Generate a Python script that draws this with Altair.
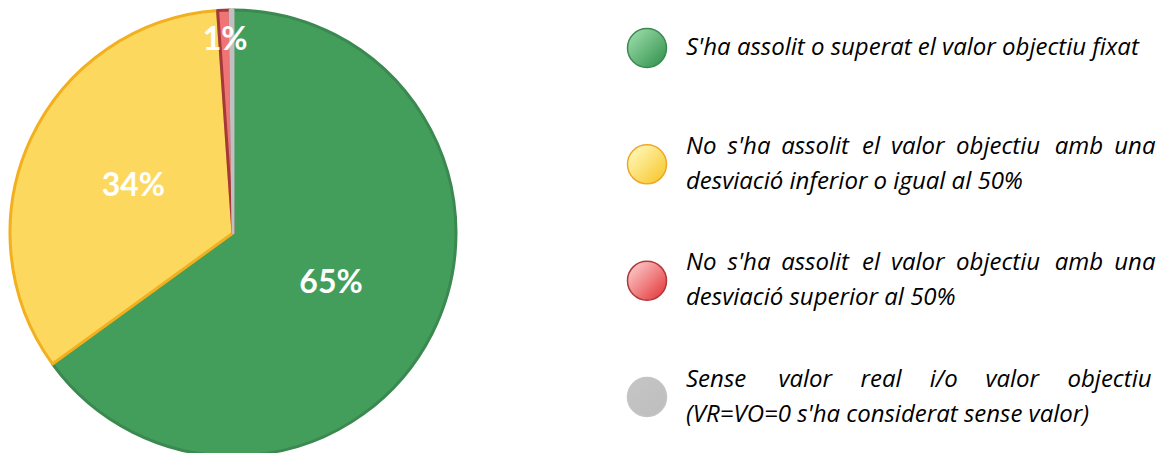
import altair as alt
import pandas as pd

# ---------------- data ----------------
categories = ["assolit", "desv_inf", "desv_sup", "sense"]
shares = [65.0, 33.9, 0.9, 0.2]
slice_labels = ["65%", "34%", "1%", ""]
fill_colors = ["#439e5c", "#fdd85e", "#f07476", "#c0c0c0"]
stroke_colors = ["#3b8950", "#f2b01e", "#a33a3a", "#c0c0c0"]
legend_texts = [
    ["S'ha assolit o superat el valor objectiu fixat"],
    ["No s'ha assolit el valor objectiu amb una", "desviació inferior o igual al 50%"],
    ["No s'ha assolit el valor objectiu amb una", "desviació superior al 50%"],
    ["Sense valor real i/o valor objectiu", "(VR=VO=0 s'ha considerat sense valor)"],
]
legend_light = ["#93d6a3", "#fff4b0", "#fbc0c0", "#c4c4c4"]
legend_dark = ["#3e9a57", "#f8cc3a", "#e6484b", "#bfbfbf"]
legend_border = ["#3b8950", "#eea826", "#b03a3a", "#c4c4c4"]

# ---------------- layout ----------------
W, H = 1157, 453
CX, CY, R = 225, 225, 223
LEG_CX = 639
TEXT_L, TEXT_R = 678, 1149
ROW_TOP, ROW_BOT = 40, 389
LINE_SP = 35
FS = 24
FONT = "Open Sans"
LABEL_FONT = "Lato"

# approximate advance widths (em) for justification
CW = {" ": 0.26, "a": 0.56, "b": 0.61, "c": 0.48, "d": 0.61, "e": 0.56, "f": 0.34,
      "g": 0.54, "h": 0.61, "i": 0.26, "j": 0.26, "k": 0.53, "l": 0.26, "m": 0.93,
      "n": 0.61, "o": 0.60, "p": 0.61, "q": 0.61, "r": 0.41, "s": 0.48, "t": 0.35,
      "u": 0.61, "v": 0.50, "w": 0.78, "x": 0.52, "y": 0.50, "z": 0.47, "ó": 0.60,
      "N": 0.75, "S": 0.55, "V": 0.58, "R": 0.60, "O": 0.77, "'": 0.20, "/": 0.37,
      "(": 0.30, ")": 0.30, "=": 0.57, "0": 0.57, "5": 0.57, "%": 0.83}


def est_w(word):
    return sum(CW.get(ch, 0.56) for ch in word) * FS


n_rows = len(categories)
row_y = [ROW_TOP + i * (ROW_BOT - ROW_TOP) / (n_rows - 1) for i in range(n_rows)]

pie_df = pd.DataFrame({
    "cat": categories,
    "share": shares,
    "label": slice_labels,
    "ord": list(range(n_rows)),
})

rows = []
for i, lines in enumerate(legend_texts):
    n = len(lines)
    for j, line in enumerate(lines):
        y = row_y[i] + (j - (n - 1) / 2) * LINE_SP
        justify = n > 1 and j < n - 1
        if justify:
            words = line.split(" ")
            ws = [est_w(w) for w in words]
            gap = (TEXT_R - TEXT_L - sum(ws)) / (len(words) - 1)
            x = TEXT_L
            for w, wd in zip(words, ws):
                rows.append({"x": x, "y": y, "t": w})
                x += wd + gap
        else:
            rows.append({"x": TEXT_L, "y": y, "t": line})
text_df = pd.DataFrame(rows)

color_scale = alt.Scale(domain=categories, range=fill_colors)
stroke_scale = alt.Scale(domain=categories, range=stroke_colors)

base = alt.Chart(pie_df)

pie = base.mark_arc(radius=R, strokeWidth=3, strokeJoin="round").encode(
    theta=alt.Theta("share:Q", stack=True),
    order=alt.Order("ord:Q"),
    color=alt.Color("cat:N", scale=color_scale, legend=None),
    stroke=alt.Stroke("cat:N", scale=stroke_scale, legend=None),
    x=alt.value(CX),
    y=alt.value(CY),
)

# labels at the middle angle of each slice (computed from the cumulative shares)
labels = base.transform_window(
    cum="sum(share)", sort=[alt.SortField("ord", order="ascending")]
).transform_joinaggregate(
    total="sum(share)"
).transform_calculate(
    mid="2*PI*(datum.cum - datum.share/2)/datum.total",
    lr="datum.share < 5 ? 193 : 110",
).transform_calculate(
    lx=f"{CX} + datum.lr*sin(datum.mid)",
    ly=f"{CY} - datum.lr*cos(datum.mid)",
).mark_text(font=LABEL_FONT, fontWeight="bold", fontSize=32, color="white",
            align="center", baseline="middle").encode(
    x=alt.X("lx:Q", scale=None),
    y=alt.Y("ly:Q", scale=None),
    text="label:N",
)

legend_layers = []
for i, c in enumerate(categories):
    grad = alt.LinearGradient(
        gradient="linear", x1=0.15, y1=0.15, x2=0.85, y2=0.85,
        stops=[alt.GradientStop(color=legend_light[i], offset=0),
               alt.GradientStop(color=legend_dark[i], offset=1)])
    layer = alt.Chart(pd.DataFrame({"cat": [c], "y": [row_y[i]]})).mark_point(
        shape="circle", filled=True, size=1520, fill=grad, opacity=1,
        stroke=legend_border[i], strokeWidth=1.5).encode(
        x=alt.value(LEG_CX),
        y=alt.Y("y:Q", scale=None),
    )
    legend_layers.append(layer)

legend_text = alt.Chart(text_df).mark_text(
    font=FONT, fontStyle="italic", fontSize=FS, color="#000000",
    align="left", baseline="middle").encode(
    x=alt.X("x:Q", scale=None),
    y=alt.Y("y:Q", scale=None),
    text="t:N",
)

chart = alt.layer(pie, labels, *legend_layers, legend_text).properties(
    width=W, height=H, padding=0, autosize="none"
).configure_view(stroke=None)

chart.save("out.html", embed_options={"renderer": "svg", "actions": False})
